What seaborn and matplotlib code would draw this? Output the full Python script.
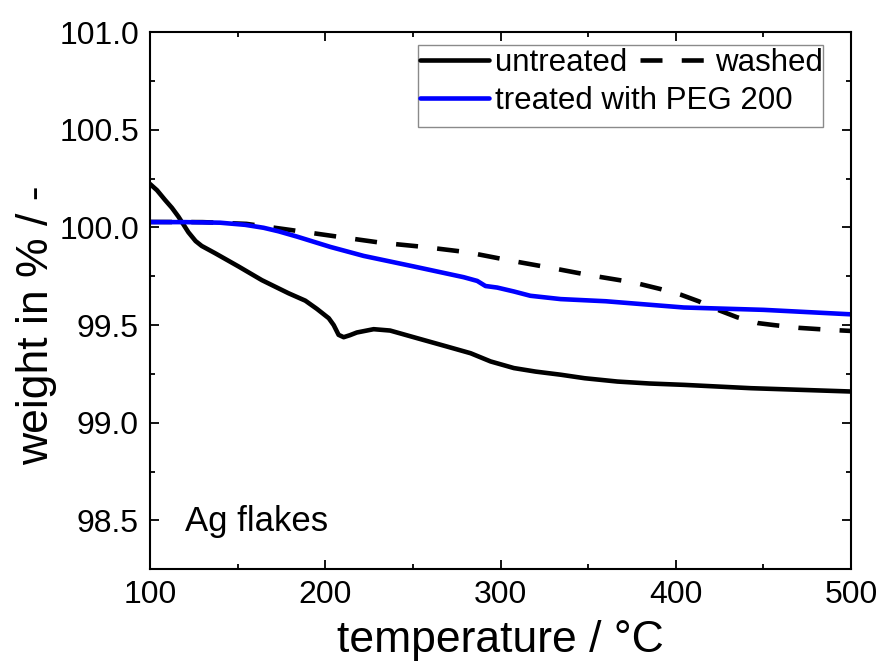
import numpy as np
import pandas as pd
import matplotlib
matplotlib.use("Agg")
import matplotlib.pyplot as plt
from matplotlib.lines import Line2D
from matplotlib.patches import Rectangle
from matplotlib.ticker import MultipleLocator, FormatStrFormatter
import seaborn as sns

# TGA curves of Ag flakes
untreated_t = [100, 104, 108.6, 112.5, 116.2, 121.9, 126, 129.5, 137.1, 150.5, 163.8, 179, 188.6,
               195.2, 202, 204.8, 207.6, 210.5, 214, 218, 227.6, 237, 252.4, 269.5, 282.9,
               294.3, 307.6, 320, 334.3, 348, 366.7, 385, 404.8, 442.9, 500]
untreated_w = [100.222, 100.19, 100.14, 100.10, 100.055, 99.975, 99.93, 99.905, 99.868, 99.80, 99.73,
               99.663, 99.625, 99.583, 99.535, 99.50, 99.45, 99.438, 99.448, 99.462, 99.479,
               99.472, 99.433, 99.39, 99.356, 99.314, 99.28, 99.262, 99.246, 99.228, 99.211,
               99.201, 99.194, 99.177, 99.16]

washed_t = [100, 130, 155, 180, 206.7, 231.4, 256.2, 281, 305.7, 330.5, 351, 376, 391, 403,
            413, 422, 435, 447, 456, 470, 487, 500]
washed_w = [100.028, 100.027, 100.018, 99.987, 99.953, 99.922, 99.90, 99.873, 99.83, 99.79,
            99.755, 99.718, 99.685, 99.655, 99.622, 99.585, 99.54, 99.51, 99.50, 99.486, 99.476, 99.47]

peg_t = [100, 120, 140, 154.3, 164.8, 173.3, 183.8, 202.9, 221.9, 250.5, 279, 286.7, 291.4,
         298.1, 307.6, 317, 334.3, 360, 404.6, 450, 500]
peg_w = [100.027, 100.027, 100.024, 100.013, 99.998, 99.98, 99.953, 99.90, 99.854, 99.80,
         99.745, 99.726, 99.70, 99.692, 99.672, 99.65, 99.633, 99.622, 99.59, 99.578, 99.555]

sns.set_style("ticks", {"xtick.direction": "in", "ytick.direction": "in",
                        "axes.edgecolor": "black", "text.color": "black",
                        "axes.labelcolor": "black", "xtick.color": "black",
                        "ytick.color": "black"})
plt.rcParams["font.family"] = ["Liberation Sans", "DejaVu Sans"]

fig = plt.figure(figsize=(8.82, 6.64), dpi=100)
ax = fig.add_axes([0.1701, 0.1426, 0.7948, 0.8092])

lw = 3.3
dash = (0, (4.8, 4.2))
sns.lineplot(x=untreated_t, y=untreated_w, ax=ax, color="black", lw=lw, estimator=None)
sns.lineplot(x=washed_t, y=washed_w, ax=ax, color="black", lw=lw, ls=dash, estimator=None)
sns.lineplot(x=peg_t, y=peg_w, ax=ax, color="#0000ff", lw=lw, estimator=None)

ax.set_xlim(100, 500)
ax.set_ylim(98.25, 101.0)
ax.xaxis.set_major_locator(MultipleLocator(100))
ax.xaxis.set_minor_locator(MultipleLocator(50))
ax.yaxis.set_major_locator(MultipleLocator(0.5))
ax.yaxis.set_minor_locator(MultipleLocator(0.25))
ax.yaxis.set_major_formatter(FormatStrFormatter("%.1f"))

for s in ax.spines.values():
    s.set_linewidth(1.5)
    s.set_visible(True)
ax.tick_params(which="both", direction="in", top=True, right=True, width=1.3,
               color="black", labelcolor="black")
ax.tick_params(which="major", length=6.5, labelsize=23, pad=8)
ax.tick_params(which="minor", length=3.5)

ax.set_xlabel("temperature / °C", fontsize=32, color="black")
ax.set_ylabel("weight in % / -", fontsize=32, color="black")
ax.xaxis.set_label_coords(0.5, -0.094)
ax.yaxis.set_label_coords(-0.133, 0.455)

ax.text(120, 98.444, "Ag flakes", fontsize=25, va="baseline", ha="left", color="black")

# legend: frame drawn by hand, two rows like the original
ax.add_patch(Rectangle((0.382, 0.823), 0.578, 0.153, transform=ax.transAxes,
                       facecolor="white", edgecolor="#8a8a8a", lw=1, zorder=4))
h_un = Line2D([], [], color="black", lw=lw)
h_wa = Line2D([], [], color="black", lw=lw, ls=dash)
h_peg = Line2D([], [], color="#0000ff", lw=lw)
leg_kw = dict(loc="upper left", frameon=False, fontsize=22.5, handlelength=2.2,
              handletextpad=0.2, columnspacing=0.4, borderpad=0, borderaxespad=0,
              labelcolor="black")
leg1 = ax.legend([h_un, h_wa], ["untreated", "washed"], ncol=2,
                 bbox_to_anchor=(0.385, 0.970), **leg_kw)
leg1.set_zorder(5)
ax.add_artist(leg1)
leg2 = ax.legend([h_peg], ["treated with PEG 200"],
                 bbox_to_anchor=(0.385, 0.8995), **leg_kw)
leg2.set_zorder(5)

fig.savefig("out.png", dpi=100)
